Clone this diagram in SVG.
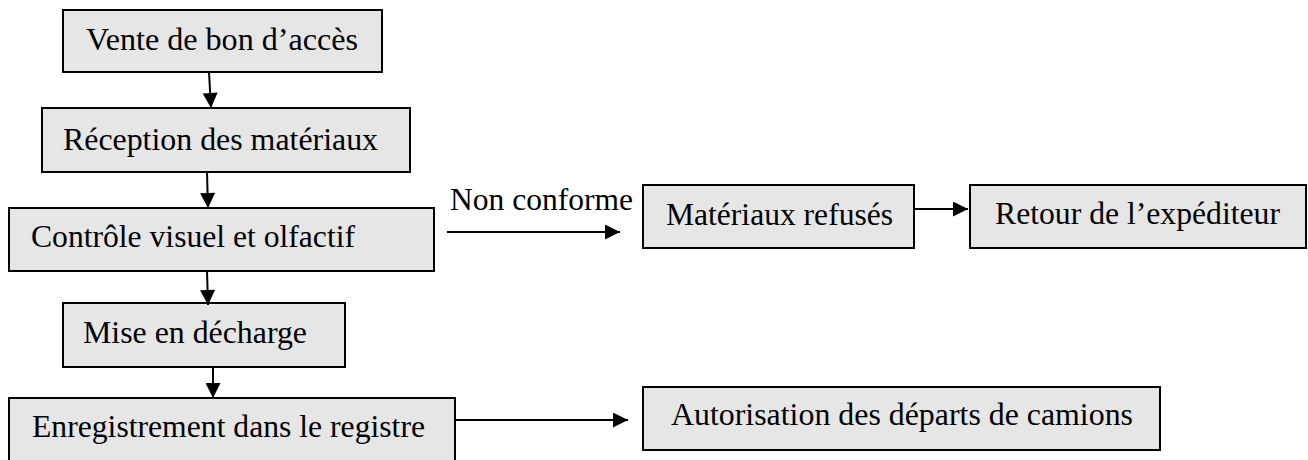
<svg xmlns="http://www.w3.org/2000/svg" width="1308" height="460" viewBox="0 0 1308 460">
  <style>
    .box { fill: #e6e6e6; stroke: #000; stroke-width: 2; }
    .lbl { font-family: 'Liberation Serif', 'Times New Roman', serif; font-size: 32px; fill: #000; }
    .conn { stroke: #000; stroke-width: 2; fill: none; marker-end: url(#arr); }
  </style>
  <defs>
    <marker id="arr" viewBox="0 0 10 10" refX="10" refY="5" markerUnits="userSpaceOnUse" markerWidth="16" markerHeight="15" orient="auto">
      <path d="M0,0 L10,5 L0,10 Z" fill="#000"/>
    </marker>
  </defs>
  <rect width="1308" height="460" fill="#fff"/>

  <g id="n1">
    <rect class="box" x="63" y="10" width="319" height="62"/>
    <text class="lbl" x="86" y="50" textLength="272" lengthAdjust="spacingAndGlyphs">Vente de bon d’accès</text>
  </g>
  <g id="n2">
    <rect class="box" x="42" y="108" width="368" height="64"/>
    <text class="lbl" x="63" y="150" textLength="315" lengthAdjust="spacingAndGlyphs">Réception des matériaux</text>
  </g>
  <g id="n3">
    <rect class="box" x="9" y="208" width="425" height="63"/>
    <text class="lbl" x="31" y="247" textLength="324" lengthAdjust="spacingAndGlyphs">Contrôle visuel et olfactif</text>
  </g>
  <g id="n4">
    <rect class="box" x="63" y="303" width="282" height="64"/>
    <text class="lbl" x="83" y="343" textLength="224" lengthAdjust="spacingAndGlyphs">Mise en décharge</text>
  </g>
  <g id="n5">
    <rect class="box" x="9" y="398" width="446" height="72"/>
    <text class="lbl" x="32" y="437" textLength="393" lengthAdjust="spacingAndGlyphs">Enregistrement dans le registre</text>
  </g>
  <g id="n6">
    <rect class="box" x="643" y="185" width="271" height="63"/>
    <text class="lbl" x="666" y="225" textLength="227" lengthAdjust="spacingAndGlyphs">Matériaux refusés</text>
  </g>
  <g id="n7">
    <rect class="box" x="970" y="185" width="336" height="63"/>
    <text class="lbl" x="995" y="224" textLength="285" lengthAdjust="spacingAndGlyphs">Retour de l’expéditeur</text>
  </g>
  <g id="n8">
    <rect class="box" x="643" y="387" width="517" height="63"/>
    <text class="lbl" x="671" y="425" textLength="462" lengthAdjust="spacingAndGlyphs">Autorisation des départs de camions</text>
  </g>

  <g id="connectors">
    <line class="conn" x1="209" y1="72" x2="211" y2="108"/>
    <line class="conn" x1="207" y1="172" x2="208" y2="208"/>
    <line class="conn" x1="207" y1="271" x2="208" y2="305"/>
    <line class="conn" x1="213" y1="367" x2="213" y2="398"/>
    <line class="conn" x1="447" y1="232" x2="620" y2="232"/>
    <text class="lbl" x="450" y="210" textLength="183" lengthAdjust="spacingAndGlyphs">Non conforme</text>
    <line class="conn" x1="914" y1="209" x2="968" y2="209"/>
    <line class="conn" x1="455" y1="420" x2="628" y2="420"/>
  </g>
</svg>
